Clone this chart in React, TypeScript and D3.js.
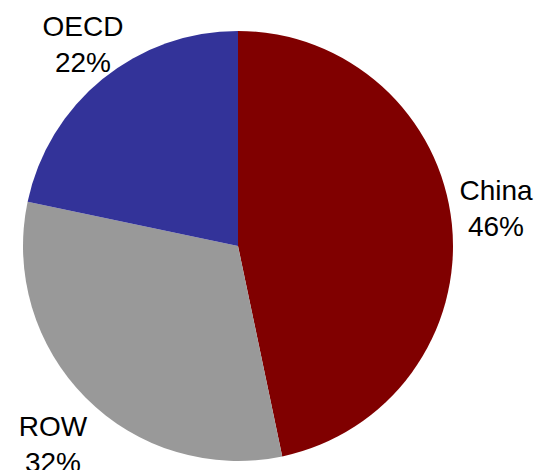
import React from "react";
import * as d3 from "d3";

const categories = ["China", "ROW", "OECD"];
const values = [46.7, 31.6, 21.7];
const percentLabels = ["46%", "32%", "22%"];
const colors = ["#800000", "#999999", "#333399"];
const labelPos: [number, number][] = [
  [496, 200],
  [53, 436],
  [83, 36],
];

export default function App() {
  const width = 538;
  const height = 470;
  const cx = 238;
  const cy = 246;
  const r = 215;
  const pie = d3.pie<number>().sort(null).value((d) => d);
  const arcs = pie(values);
  const arc = d3.arc<d3.PieArcDatum<number>>().innerRadius(0).outerRadius(r);
  return (
    <svg
      width={width}
      height={height}
      style={{ position: "absolute", left: 0, top: 0, background: "#fff" }}
    >
      <g transform={`translate(${cx},${cy})`}>
        {arcs.map((a, i) => (
          <path key={i} d={arc(a) || ""} fill={colors[i]} />
        ))}
      </g>
      {categories.map((c, i) => (
        <text
          key={c}
          x={labelPos[i][0]}
          y={labelPos[i][1]}
          textAnchor="middle"
          fontFamily="Liberation Sans, Arial, sans-serif"
          fontSize={28}
          fill="#000"
        >
          <tspan x={labelPos[i][0]}>{c}</tspan>
          <tspan x={labelPos[i][0]} dy={36}>
            {percentLabels[i]}
          </tspan>
        </text>
      ))}
    </svg>
  );
}
